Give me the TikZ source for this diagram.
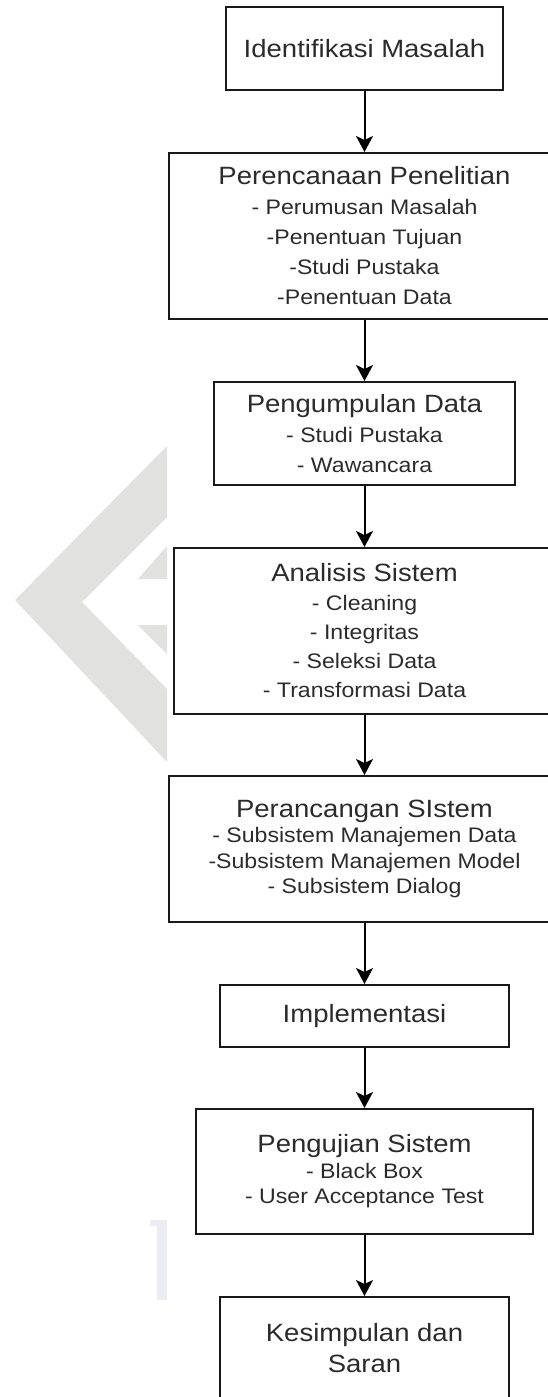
\documentclass[tikz,border=0pt]{standalone}
\usepackage{fontspec}
\setmainfont{Liberation Sans}[FakeStretch=1.1]
\usetikzlibrary{arrows.meta}
\definecolor{inkgray}{HTML}{2B2B2B}
\definecolor{markgray}{HTML}{E1E2DF}
\definecolor{marklilac}{HTML}{ECECF3}
\newcommand{\ttl}{\fontsize{25}{30}\selectfont}
\newcommand{\itm}[1]{\fontsize{21}{#1}\selectfont}
\begin{document}
\begin{tikzpicture}[x=1pt, y=-1pt, >={Stealth[length=16pt, width=17pt, inset=4pt]},
  stage/.style={draw=black!90, line width=2pt, inner sep=0pt, align=center, text=inkgray, font=\ttl},
  flow/.style={->, line width=2pt}]
  \useasboundingbox (0,0) rectangle (547,1397);
  \fill[markgray] (167,446) -- (15,600) -- (167,762) -- (167,689) -- (82,602) -- (167,517) -- cycle;
  \fill[markgray] (167,546) -- (138,579) -- (167,579) -- cycle;
  \fill[markgray] (138,625) -- (167,625) -- (167,654) -- cycle;
  \fill[marklilac] (150,1220) -- (167,1220) -- (167,1300) -- (157,1300) -- (157,1226) -- (150,1226) -- cycle;
  \node[stage, minimum width=277pt, minimum height=83pt] (ident) at (364.5,48.5) {Identifikasi Masalah};
  \node[stage, font=\itm{30}, minimum width=391pt, minimum height=166pt] (rencana) at (364.5,236)
    {\ttl Perencanaan Penelitian\\ - Perumusan Masalah\\ -Penentuan Tujuan\\ -Studi Pustaka\\ -Penentuan Data};
  \node[stage, font=\itm{30}, minimum width=301pt, minimum height=103pt] (kumpul) at (364.5,433.5)
    {\ttl Pengumpulan Data\\ - Studi Pustaka\\ - Wawancara};
  \node[stage, font=\itm{29}, minimum width=381pt, minimum height=166pt] (analisis) at (364.5,631)
    {\ttl Analisis Sistem\\ - Cleaning\\ - Integritas\\ - Seleksi Data\\ - Transformasi Data};
  \node[stage, font=\itm{25.5}, minimum width=391pt, minimum height=146pt] (rancang) at (364.5,849)
    {\ttl Perancangan SIstem\\ - Subsistem Manajemen Data\\ -Subsistem Manajemen Model\\ - Subsistem Dialog};
  \node[stage, minimum width=289pt, minimum height=62pt] (impl) at (364.5,1016) {Implementasi};
  \node[stage, font=\itm{25.5}, minimum width=337pt, minimum height=125pt] (uji) at (364.5,1171.5)
    {\ttl Pengujian Sistem\\ - Black Box\\ - User Acceptance Test};
  \node[stage, font=\fontsize{25}{31}\selectfont, minimum width=289pt, minimum height=102pt] (simpul) at (364.5,1348)
    {Kesimpulan dan\\ Saran};
  \draw[flow] (ident.south) -- (rencana.north);
  \draw[flow] (rencana.south) -- (kumpul.north);
  \draw[flow] (kumpul.south) -- (analisis.north);
  \draw[flow] (analisis.south) -- (rancang.north);
  \draw[flow] (rancang.south) -- (impl.north);
  \draw[flow] (impl.south) -- (uji.north);
  \draw[flow] (uji.south) -- (simpul.north);
\end{tikzpicture}
\end{document}
